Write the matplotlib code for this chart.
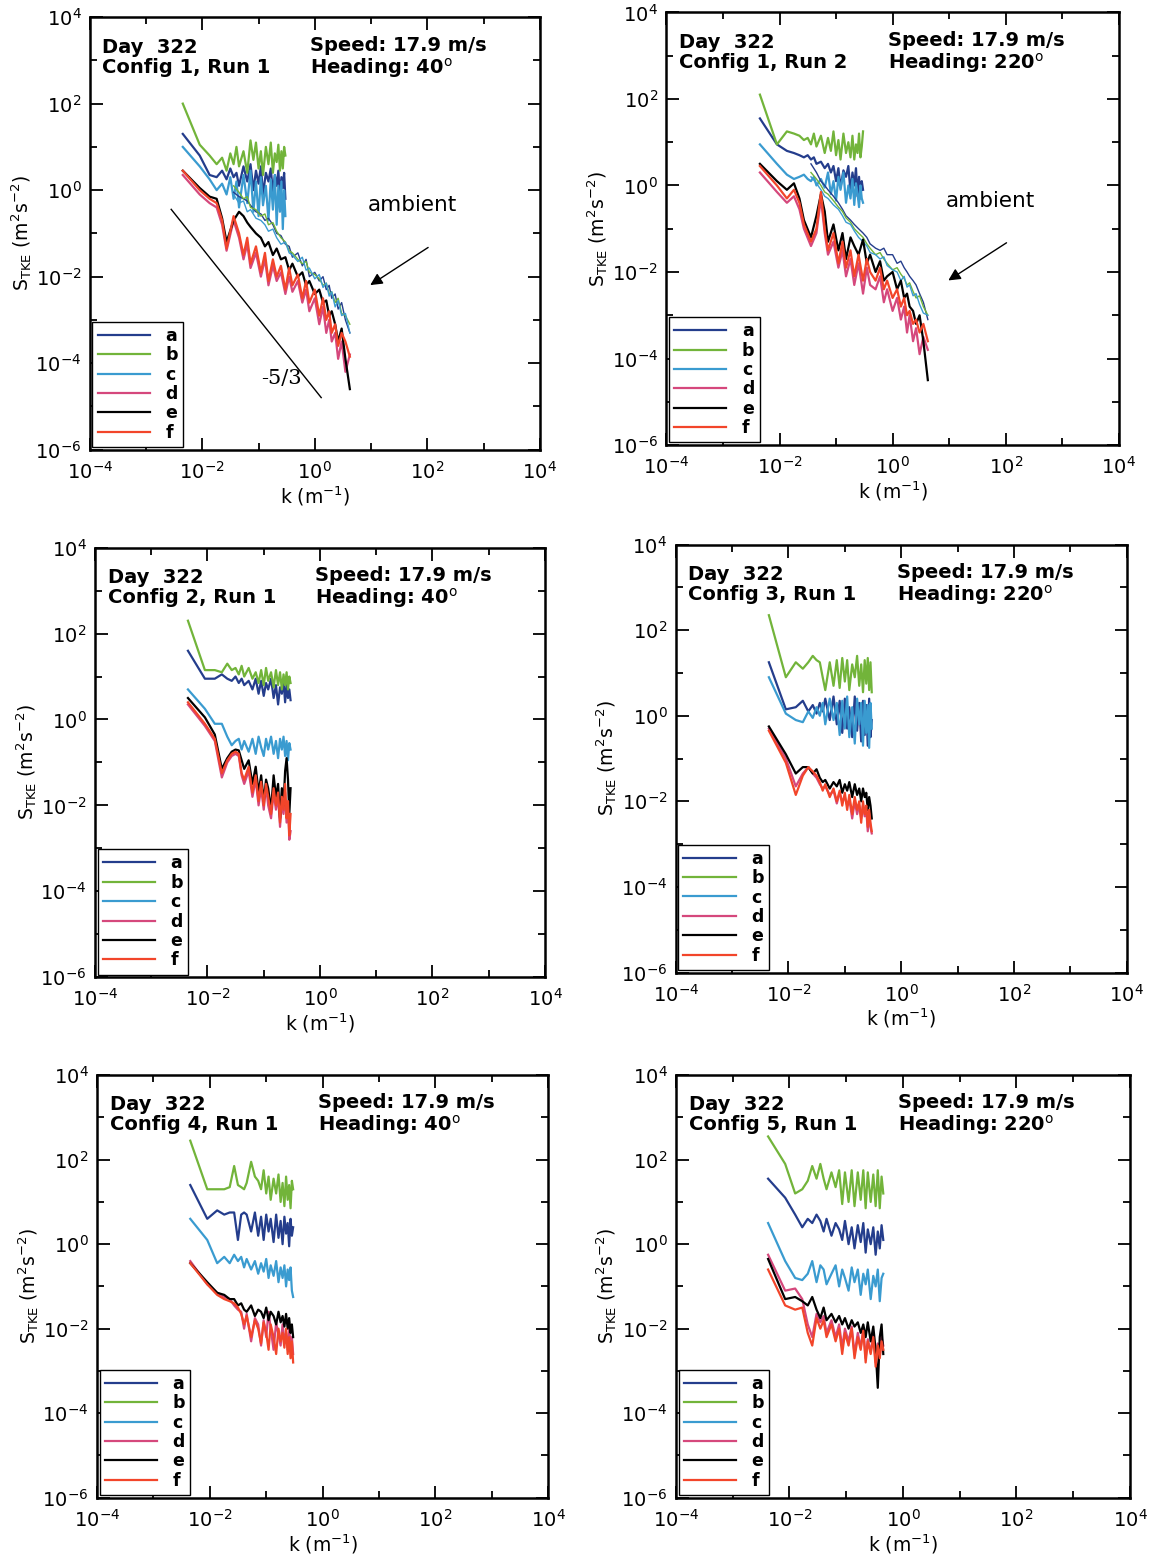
import numpy as np
import matplotlib.pyplot as plt
from matplotlib.lines import Line2D
from matplotlib.ticker import FixedLocator, NullFormatter

# wavenumber grids (m^-1)
K_WAKE = [0.0045, 0.009, 0.0135, 0.018, 0.0225, 0.027, 0.0315, 0.036, 0.0405, 0.045,
          0.054, 0.063, 0.072, 0.081, 0.09, 0.10, 0.11, 0.12, 0.135, 0.15,
          0.165, 0.18, 0.195, 0.21, 0.225, 0.24, 0.255, 0.27, 0.285, 0.30]
K_WAKE6 = [0.0042, 0.0084, 0.0126, 0.0168, 0.021, 0.0252, 0.030, 0.035, 0.040, 0.045,
           0.055, 0.065, 0.075, 0.085, 0.095, 0.11, 0.125, 0.14, 0.16, 0.18,
           0.20, 0.22, 0.24, 0.27, 0.30, 0.33, 0.36, 0.39, 0.42, 0.45]
K_AMB = [0.0045, 0.009, 0.0135, 0.018, 0.0225, 0.027, 0.036, 0.045, 0.054, 0.063,
         0.072, 0.09, 0.11, 0.13, 0.15, 0.18, 0.21, 0.25, 0.30, 0.35,
         0.40, 0.50, 0.60, 0.70, 0.80, 1.0, 1.2, 1.4, 1.6, 1.8,
         2.0, 2.3, 2.6, 3.0, 3.5, 4.2]
K_AMB_TAIL = K_AMB[6:]

# Config 1, Run 1
P1_A = [1.3, 0.8, 0.35, 0.3, 0.45, 0.25, 0.5, 0.3, 0.4, 0.1, 0.55, 0.2, 0.6, 0.0, 0.45,
        0.15, 0.55, -0.1, 0.4, 0.2, 0.5, -0.05, 0.35, 0.1, 0.45, -0.15, 0.3, 0.05, 0.4, -0.2]
P1_B = [2.0, 1.05, 0.8, 0.6, 0.75, 0.45, 0.85, 0.6, 1.0, 0.55, 0.9, 0.4, 1.15, 0.7, 1.1,
        0.5, 0.9, 0.35, 1.0, 0.6, 1.1, 0.4, 0.85, 0.65, 1.05, 0.45, 0.9, 0.5, 1.0, 0.8]
P1_C = [1.0, 0.55, 0.25, 0.0, 0.15, -0.1, 0.3, -0.2, 0.2, -0.4, 0.35, -0.3, 0.45, -0.5, 0.2,
        -0.6, 0.3, -0.35, 0.1, -0.7, 0.25, -0.45, 0.35, -0.8, 0.1, -0.5, 0.2, -0.9, 0.0, -0.6]
P1_A_AMB = [-0.05, -0.15, -0.2, -0.25, -0.35, -0.5, -0.55, -0.7, -0.65, -0.8, -1.0, -1.05,
            -1.25, -1.3, -1.55, -1.45, -1.75, -1.6, -2.0, -1.9, -2.1, -2.0, -2.3, -2.2,
            -2.5, -2.4, -2.75, -2.6, -3.0, -3.3]
P1_B_AMB = [0.1, -0.05, -0.2, -0.15, -0.4, -0.45, -0.6, -0.55, -0.8, -0.75, -0.95, -1.1,
            -1.2, -1.4, -1.45, -1.6, -1.7, -1.65, -1.9, -1.95, -2.05, -2.2, -2.15, -2.4,
            -2.35, -2.6, -2.5, -2.85, -2.9, -3.1]
P1_C_AMB = [-0.1, -0.3, -0.25, -0.5, -0.45, -0.65, -0.7, -0.8, -0.95, -0.9, -1.1, -1.25,
            -1.2, -1.45, -1.5, -1.65, -1.55, -1.85, -1.8, -2.05, -1.95, -2.25, -2.15, -2.45,
            -2.35, -2.7, -2.55, -2.9, -2.85, -3.3]
P1_D = [0.35, -0.1, -0.3, -0.4, -0.8, -1.4, -0.7, -1.1, -1.6, -1.25, -1.8, -1.45, -2.0,
        -1.6, -2.2, -1.75, -2.1, -1.9, -2.4, -2.0, -2.35, -2.1, -2.6, -2.3, -2.8, -2.5,
        -3.1, -2.7, -3.3, -3.0, -3.5, -3.3, -3.9, -3.5, -4.2, -3.8]
P1_E = [0.45, 0.05, -0.15, -0.2, -0.65, -1.2, -0.7, -0.5, -0.6, -0.75, -0.85, -1.0, -1.1,
        -1.3, -1.2, -1.5, -1.35, -1.6, -1.55, -1.85, -1.7, -2.0, -1.9, -2.2, -2.1, -2.4,
        -2.3, -2.6, -2.55, -2.9, -2.8, -3.1, -3.5, -3.2, -3.9, -4.6]
P1_F = [0.45, 0.0, -0.2, -0.3, -0.7, -1.35, -0.6, -1.0, -1.5, -1.1, -1.7, -1.3, -1.9,
        -1.45, -2.1, -1.6, -2.0, -1.75, -2.3, -1.8, -2.2, -1.95, -2.5, -2.1, -2.6, -2.3,
        -2.9, -2.5, -3.0, -2.8, -3.3, -3.1, -3.6, -3.3, -3.5, -3.85]

# Config 1, Run 2
P2_A = [1.55, 0.95, 0.8, 0.75, 0.7, 0.65, 0.7, 0.6, 0.65, 0.5, 0.55, 0.4, 0.5, 0.3, 0.45,
        0.1, 0.4, -0.05, 0.35, 0.2, 0.45, -0.15, 0.3, 0.0, 0.4, -0.25, 0.2, -0.3, 0.1, -0.1]
P2_B = [2.1, 0.95, 1.25, 1.2, 1.15, 1.05, 1.1, 0.95, 1.2, 0.9, 1.15, 0.75, 1.1, 0.8, 1.25,
        0.7, 1.05, 0.6, 1.2, 0.75, 1.0, 0.65, 1.15, 0.6, 0.95, 0.75, 1.2, 0.65, 0.9, 1.25]
P2_C = [0.95, 0.5, 0.25, 0.15, 0.2, 0.25, 0.15, 0.1, 0.2, 0.0, 0.15, -0.05, 0.3, -0.2, 0.1,
        -0.35, 0.2, -0.1, 0.3, -0.4, 0.0, -0.3, 0.15, -0.45, 0.05, -0.2, -0.5, 0.0, -0.3, -0.4]
P2_A_AMB = [0.5, 0.3, 0.1, 0.0, -0.1, -0.25, -0.4, -0.55, -0.7, -0.8, -0.9, -1.0, -1.1,
            -1.2, -1.35, -1.45, -1.5, -1.45, -1.6, -1.6, -1.8, -1.75, -1.9, -2.0, -2.1,
            -2.2, -2.3, -2.5, -2.7, -3.1]
P2_B_AMB = [0.3, 0.15, 0.0, -0.15, -0.2, -0.35, -0.5, -0.6, -0.75, -0.85, -1.0, -1.1,
            -1.2, -1.35, -1.45, -1.6, -1.55, -1.7, -1.8, -1.95, -1.9, -2.05, -2.15, -2.3,
            -2.25, -2.45, -2.6, -2.55, -2.8, -3.0]
P2_C_AMB = [0.2, 0.05, -0.1, -0.25, -0.3, -0.45, -0.55, -0.7, -0.85, -0.9, -1.05, -1.2,
            -1.3, -1.4, -1.55, -1.6, -1.7, -1.65, -1.85, -1.95, -2.0, -2.2, -2.1, -2.35,
            -2.3, -2.55, -2.5, -2.75, -2.95, -3.0]
P2_D = [0.3, -0.15, -0.4, -0.25, -0.55, -1.0, -1.4, -1.1, -0.3, -1.1, -1.6, -1.3, -1.9,
        -1.5, -2.1, -1.7, -2.3, -1.8, -2.5, -1.9, -2.3, -2.4, -2.1, -2.7, -2.4, -2.9,
        -2.6, -3.1, -2.8, -3.4, -3.0, -3.6, -3.3, -3.9, -3.5, -3.8]
P2_E = [0.5, 0.1, -0.1, 0.05, -0.3, -0.8, -1.2, -0.7, -0.2, -0.6, -1.3, -0.9, -1.5, -1.1,
        -1.7, -1.2, -1.4, -1.6, -1.25, -1.8, -1.6, -2.0, -1.75, -2.2, -2.1, -2.0, -2.4,
        -2.2, -2.6, -2.5, -2.8, -2.9, -3.2, -3.0, -3.6, -4.5]
P2_F = [0.45, 0.0, -0.3, -0.1, -0.4, -0.9, -1.3, -1.0, -0.15, -1.0, -1.5, -1.1, -1.8,
        -1.3, -1.9, -1.5, -2.1, -1.6, -2.2, -1.7, -2.0, -2.2, -1.9, -2.4, -2.2, -2.6,
        -2.4, -2.8, -2.6, -3.0, -2.9, -3.2, -3.1, -3.4, -3.2, -3.6]

# Config 2, Run 1
P3_A = [1.6, 0.95, 0.95, 1.05, 0.95, 0.9, 1.0, 0.85, 0.95, 0.8, 0.9, 0.7, 0.95, 0.6, 0.9,
        0.55, 0.85, 0.7, 0.95, 0.5, 0.8, 0.35, 0.75, 0.6, 0.9, 0.4, 0.8, 0.5, 0.7, 0.45]
P3_B = [2.3, 1.15, 1.15, 1.1, 1.3, 1.15, 1.2, 1.05, 1.25, 1.0, 1.2, 0.95, 1.1, 0.85, 1.15,
        0.8, 1.2, 0.9, 1.1, 0.75, 1.15, 0.8, 1.1, 0.7, 1.05, 0.8, 1.1, 0.7, 1.0, 0.85]
P3_C = [0.7, 0.25, -0.1, -0.1, -0.4, -0.6, -0.5, -0.45, -0.7, -0.5, -0.75, -0.45, -0.8,
        -0.4, -0.65, -0.85, -0.45, -0.7, -0.4, -0.8, -0.5, -0.9, -0.45, -0.7, -0.4, -0.85,
        -0.5, -0.95, -0.55, -0.7]
P3_D = [0.35, -0.15, -0.5, -1.35, -1.0, -0.85, -0.8, -0.85, -1.3, -1.5, -1.2, -1.8, -1.4,
        -2.0, -1.6, -2.1, -1.55, -2.0, -2.3, -1.7, -2.1, -1.8, -2.5, -1.9, -2.2, -1.7, -2.4,
        -2.0, -2.8, -2.6]
P3_E = [0.5, 0.05, -0.35, -1.15, -0.9, -0.75, -0.7, -0.72, -0.95, -1.15, -0.95, -1.5, -1.1,
        -1.7, -1.3, -1.9, -1.4, -1.6, -2.1, -1.3, -1.8, -1.5, -2.3, -1.6, -2.0, -1.2, -0.9,
        -1.4, -2.2, -1.6]
P3_F = [0.4, -0.1, -0.45, -1.25, -0.95, -0.8, -0.75, -0.8, -1.25, -1.4, -1.1, -1.7, -1.3,
        -1.9, -1.45, -2.0, -1.5, -1.8, -2.2, -1.6, -2.0, -1.7, -2.4, -1.8, -2.1, -1.5, -2.3,
        -1.9, -2.7, -2.2]

# Config 3, Run 1
P4_A = [1.25, 0.15, 0.2, 0.35, 0.1, 0.25, 0.05, 0.3, 0.1, 0.4, -0.1, 0.45, -0.2, 0.35, -0.4,
        0.4, -0.3, 0.2, -0.5, 0.45, -0.35, 0.3, -0.6, 0.35, -0.45, 0.25, -0.7, 0.4, -0.5, -0.1]
P4_B = [2.35, 0.9, 1.25, 1.1, 1.25, 1.4, 1.3, 1.25, 0.9, 0.6, 1.25, 0.7, 1.3, 0.65, 1.35,
        0.8, 1.3, 0.6, 1.2, 0.9, 1.4, 0.7, 1.2, 0.55, 1.3, 0.75, 1.35, 0.6, 1.25, 0.55]
P4_C = [0.9, 0.05, -0.1, -0.15, 0.1, -0.05, 0.2, 0.0, 0.3, -0.2, 0.4, -0.1, 0.3, -0.45, 0.35,
        -0.3, 0.45, -0.5, 0.2, -0.65, 0.4, -0.2, 0.3, -0.7, 0.35, -0.4, 0.25, -0.75, 0.3, -0.3]
P4_D = [-0.3, -1.0, -1.65, -1.35, -1.2, -1.35, -1.45, -1.6, -1.7, -1.65, -1.85, -1.75, -2.05,
        -1.8, -2.0, -1.9, -2.1, -1.95, -2.4, -2.0, -2.3, -2.1, -2.4, -2.1, -2.35, -2.2, -2.7,
        -2.3, -2.6, -2.75]
P4_E = [-0.25, -0.9, -1.35, -1.2, -1.2, -1.35, -1.25, -1.45, -1.55, -1.5, -1.7, -1.55, -1.65,
        -1.5, -1.8, -1.6, -1.75, -1.55, -1.9, -1.6, -1.85, -1.7, -2.0, -1.7, -1.9, -1.8, -2.2,
        -1.9, -2.1, -2.4]
P4_F = [-0.35, -1.1, -1.85, -1.4, -1.2, -1.3, -1.4, -1.55, -1.75, -1.6, -1.9, -1.7, -2.0,
        -1.75, -2.1, -1.8, -2.2, -1.85, -2.3, -1.9, -2.2, -2.0, -2.5, -2.0, -2.3, -2.1, -2.6,
        -2.2, -2.5, -2.7]

# Config 4, Run 1
P5_A = [1.4, 0.6, 0.8, 0.7, 0.75, 0.75, 0.1, 0.7, 0.75, 0.7, 0.3, 0.75, 0.2, 0.65, 0.1,
        0.7, 0.3, 0.6, 0.05, 0.7, 0.15, 0.55, 0.0, 0.65, 0.25, 0.5, -0.05, 0.6, 0.2, 0.4]
P5_B = [2.45, 1.3, 1.3, 1.3, 1.35, 1.85, 1.4, 1.35, 1.3, 1.45, 1.95, 1.6, 1.5, 1.3, 1.75,
        1.2, 1.6, 1.05, 1.55, 1.2, 1.65, 1.0, 1.45, 0.9, 1.6, 1.05, 1.4, 0.85, 1.5, 1.3]
P5_C = [0.6, 0.1, -0.45, -0.3, -0.45, -0.25, -0.4, -0.3, -0.55, -0.35, -0.6, -0.4, -0.7,
        -0.45, -0.65, -0.35, -0.8, -0.5, -0.75, -0.4, -0.9, -0.55, -0.8, -0.5, -1.0, -0.6,
        -0.85, -0.55, -1.1, -1.25]
P5_D = [-0.4, -0.95, -1.15, -1.25, -1.3, -1.45, -1.55, -1.6, -2.0, -1.65, -2.3, -1.75, -1.9,
        -2.4, -1.8, -2.2, -1.6, -2.0, -2.5, -1.85, -2.15, -2.4, -1.9, -2.3, -2.1, -2.5, -2.0,
        -2.4, -2.2, -2.6]
P5_E = [-0.45, -0.9, -1.15, -1.2, -1.3, -1.3, -1.45, -1.4, -1.55, -1.6, -1.45, -1.7, -1.55,
        -1.6, -1.75, -1.5, -1.8, -1.6, -1.7, -1.9, -1.6, -1.85, -1.7, -1.95, -1.65, -2.0,
        -1.75, -2.1, -1.9, -2.2]
P5_F = [-0.45, -0.95, -1.2, -1.3, -1.35, -1.4, -1.5, -1.65, -1.9, -1.7, -2.2, -1.8, -2.0,
        -2.35, -1.85, -2.1, -2.5, -1.9, -2.2, -2.6, -2.0, -2.3, -2.1, -2.45, -2.0, -2.6, -2.2,
        -2.7, -2.3, -2.8]

# Config 5, Run 1
P6_A = [1.55, 1.1, 0.7, 0.4, 0.6, 0.5, 0.7, 0.55, 0.3, 0.6, 0.2, 0.5, 0.35, 0.1, 0.55,
        0.0, 0.4, -0.1, 0.45, 0.05, 0.5, -0.2, 0.35, 0.0, 0.4, -0.25, 0.3, -0.1, 0.45, 0.1]
P6_B = [2.55, 1.9, 1.2, 1.3, 1.5, 1.85, 1.55, 1.9, 1.55, 1.3, 1.7, 1.35, 1.75, 0.95, 1.7,
        1.0, 1.75, 0.9, 1.7, 1.05, 1.75, 0.85, 1.7, 1.0, 1.65, 0.9, 1.75, 0.85, 1.6, 1.2]
P6_C = [0.5, -0.4, -0.8, -0.85, -0.7, -0.4, -0.9, -0.5, -0.6, -0.95, -0.7, -0.5, -1.0, -0.6,
        -0.8, -1.1, -0.55, -0.9, -0.6, -1.2, -0.7, -0.95, -0.6, -1.3, -0.75, -1.0, -0.6,
        -1.35, -0.8, -0.7]
P6_D = [-0.25, -1.1, -1.05, -1.3, -1.9, -2.2, -1.65, -1.85, -1.7, -2.1, -1.8, -2.2, -1.9,
        -2.45, -2.0, -2.3, -1.95, -2.6, -2.1, -2.45, -2.0, -2.7, -2.25, -2.55, -2.15, -2.8,
        -2.35, -2.65, -2.2, -2.4]
P6_E = [-0.35, -1.3, -1.25, -1.35, -1.45, -1.25, -1.55, -1.75, -1.5, -1.8, -1.65, -1.85,
        -1.7, -1.9, -1.75, -2.0, -1.8, -1.95, -1.85, -2.1, -1.9, -2.2, -1.85, -2.3, -1.95,
        -2.5, -3.4, -2.2, -1.9, -2.6]
P6_F = [-0.6, -1.45, -1.55, -1.5, -2.1, -2.4, -1.75, -2.0, -1.8, -2.2, -1.9, -2.3, -2.0,
        -2.6, -2.1, -2.4, -2.0, -2.7, -2.2, -2.5, -2.05, -2.8, -2.3, -2.6, -2.2, -2.9, -2.4,
        -2.7, -2.3, -2.5]

# -5/3 reference line end points
SLOPE_K = [0.0028, 1.3]
SLOPE_S = [0.36, 1.6e-5]

CONFIGS = ['Config 1, Run 1', 'Config 1, Run 2', 'Config 2, Run 1',
           'Config 3, Run 1', 'Config 4, Run 1', 'Config 5, Run 1']
HEADINGS = ['40', '220', '40', '220', '40', '220']
LABELS = ['a', 'b', 'c', 'd', 'e', 'f']

COLORS = {'a': '#243d8c', 'b': '#72b43a', 'c': '#3a9bd0',
          'd': '#d5487c', 'e': '#000000', 'f': '#f2452a'}

# axes rectangles (figure fraction) for the 6 panels
POSITIONS = [[0.078, 0.711, 0.391, 0.278], [0.579, 0.714, 0.393, 0.278],
             [0.0825, 0.372, 0.391, 0.276], [0.587, 0.375, 0.392, 0.275],
             [0.0843, 0.0375, 0.392, 0.2715], [0.5873, 0.0375, 0.3944, 0.2715]]

panels = [
    {'wake_k': K_WAKE, 'wake': [P1_A, P1_B, P1_C], 'amb': [P1_A_AMB, P1_B_AMB, P1_C_AMB],
     'full': [P1_D, P1_E, P1_F], 'extra': True, 'slope': True},
    {'wake_k': K_WAKE, 'wake': [P2_A, P2_B, P2_C], 'amb': [P2_A_AMB, P2_B_AMB, P2_C_AMB],
     'full': [P2_D, P2_E, P2_F], 'extra': True, 'slope': False},
    {'wake_k': K_WAKE, 'wake': [P3_A, P3_B, P3_C, P3_D, P3_E, P3_F]},
    {'wake_k': K_WAKE, 'wake': [P4_A, P4_B, P4_C, P4_D, P4_E, P4_F]},
    {'wake_k': K_WAKE, 'wake': [P5_A, P5_B, P5_C, P5_D, P5_E, P5_F]},
    {'wake_k': K_WAKE6, 'wake': [P6_A, P6_B, P6_C, P6_D, P6_E, P6_F]},
]

LW = 1.6


def setup_axes(ax):
    ax.set_xscale('log')
    ax.set_yscale('log')
    ax.set_xlim(1e-4, 1e4)
    ax.set_ylim(1e-6, 1e4)
    ax.xaxis.set_major_locator(FixedLocator([1e-4, 1e-2, 1e0, 1e2, 1e4]))
    ax.xaxis.set_minor_locator(FixedLocator([1e-3, 1e-1, 1e1, 1e3]))
    ax.yaxis.set_major_locator(FixedLocator([1e-6, 1e-4, 1e-2, 1e0, 1e2, 1e4]))
    ax.yaxis.set_minor_locator(FixedLocator([1e-5, 1e-3, 1e-1, 1e1, 1e3]))
    ax.xaxis.set_minor_formatter(NullFormatter())
    ax.yaxis.set_minor_formatter(NullFormatter())
    ax.tick_params(which='both', direction='in', top=True, right=True, width=1.3,
                   labelsize=14)
    ax.tick_params(which='major', length=9)
    ax.tick_params(axis='x', which='major', pad=8)
    ax.tick_params(axis='y', which='major', pad=6)
    ax.tick_params(which='minor', length=5)
    for sp in ax.spines.values():
        sp.set_linewidth(1.8)
    ax.set_xlabel(r'k (m$^{-1}$)', fontsize=13.5, labelpad=1)
    ax.set_ylabel(r'S$_{\rm TKE}$ (m$^2$s$^{-2}$)', fontsize=13.5)
    ax.yaxis.set_label_coords(-0.125, 0.5)


fig = plt.figure(figsize=(11.51, 15.56), dpi=100)
fig.patch.set_facecolor('white')

for i, p in enumerate(panels):
    ax = fig.add_axes(POSITIONS[i])
    setup_axes(ax)

    if p.get('extra'):
        # wake spectra a-c, thin ambient tails a-c, full spectra d-f
        for lab, vals in zip(LABELS[:3], p['wake']):
            ax.plot(p['wake_k'], np.power(10.0, vals), color=COLORS[lab], lw=LW)
        for lab, vals in zip(LABELS[:3], p['amb']):
            ax.plot(K_AMB_TAIL, np.power(10.0, vals), color=COLORS[lab], lw=1.0)
        for lab, vals in zip(LABELS[3:], p['full']):
            ax.plot(K_AMB, np.power(10.0, vals), color=COLORS[lab], lw=LW)
        ax.text(0.716, 0.565, 'ambient', transform=ax.transAxes, ha='center',
                va='center', fontsize=15.5)
        ax.annotate('', xy=(0.618, 0.377), xycoords='axes fraction',
                    xytext=(0.757, 0.471), textcoords='axes fraction',
                    arrowprops=dict(arrowstyle='-|>', color='black', lw=1.0,
                                    mutation_scale=18))
    else:
        for lab, vals in zip(LABELS, p['wake']):
            ax.plot(p['wake_k'], np.power(10.0, vals), color=COLORS[lab], lw=LW)

    if p.get('slope'):
        ax.plot(SLOPE_K, SLOPE_S, color='black', lw=1.0)
        ax.text(0.425, 0.165, '-5/3', transform=ax.transAxes, fontsize=15,
                family='DejaVu Serif', ha='center', va='center')

    ax.text(0.028, 0.952, 'Day  322\n' + CONFIGS[i], transform=ax.transAxes,
            ha='left', va='top', fontsize=14, fontweight='bold', linespacing=1.05)
    ax.text(0.49, 0.957, 'Speed: 17.9 m/s\nHeading: ' + HEADINGS[i] + r'$^{\rm o}$',
            transform=ax.transAxes, ha='left', va='top', fontsize=14,
            fontweight='bold', linespacing=1.05)

    handles = [Line2D([], [], color=COLORS[lab], lw=LW) for lab in LABELS]
    leg = ax.legend(handles, LABELS, loc='lower left', borderaxespad=0.15,
                    fancybox=False, edgecolor='black', framealpha=1,
                    handlelength=3.0, handletextpad=0.9, labelspacing=0.08,
                    borderpad=0.3, prop={'size': 12.5, 'weight': 'bold'})
    leg.get_frame().set_linewidth(1.0)

fig.savefig('out.png', dpi=100, facecolor='white')
